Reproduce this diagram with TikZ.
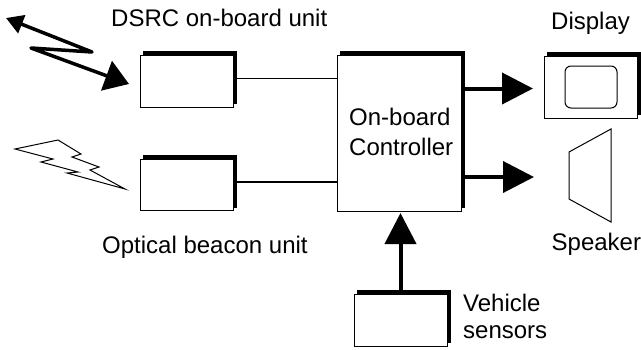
\documentclass[tikz,border=0pt]{standalone}
\usepackage{fontspec}
\setmainfont{Liberation Sans}
\usetikzlibrary{arrows.meta}
\newcommand{\LABELSIZE}{\fontsize{24}{28}\selectfont}

\tikzset{
    unitbox/.style={draw, fill=white, line width=1pt, inner sep=0pt, outer sep=0pt},
    shadowline/.style={line width=4.5pt, miter limit=10},
    thinlink/.style={line width=1.5pt},
    fatarrow/.style={line width=4pt, -{Triangle[length=31pt, width=31pt]}},
    zigzag/.style={line width=3.5pt, line join=round},
    label/.style={font=\LABELSIZE, inner sep=0pt, anchor=base west, align=left}
}

\begin{document}
\begin{tikzpicture}[x=1pt, y=-1pt]
    \useasboundingbox (0, 0) rectangle (641, 349);

    % boxes with their heavy top and right edges
    \foreach \name/\xleft/\ytop/\wide/\high in {
            dsrc/140/55.5/93/51.5,
            optical/140/159/93/51.5,
            controller/337/55/124/156,
            display/544/56/93/62,
            sensors/354/294/93/52
        } {
            \node[unitbox, minimum width=\wide pt, minimum height=\high pt] (\name)
                at ({\xleft + \wide / 2}, {\ytop + \high / 2}) {};
            \draw[shadowline] ([shift={(3pt, 2.2pt)}]\name.north west) -- ([shift={(2.2pt, 2.2pt)}]\name.north east)
                -- ([shift={(2.2pt, 3pt)}]\name.south east);
        }

    % screen and speaker
    \draw[line width=1pt, rounded corners=6pt] (565, 66) rectangle (617, 108);
    \draw[line width=1pt] (569, 152) -- (611, 129) -- (611, 222) -- (569, 199) -- cycle;

    % links
    \draw[thinlink] (dsrc.east) ++(0, -3) coordinate (dsrcout) -- (dsrcout -| controller.west);
    \draw[thinlink] (optical.east) ++(0, -3) coordinate (opticalout) -- (opticalout -| controller.west);

    \coordinate (displayin) at (533, 88.5);
    \coordinate (speakerin) at (534, 177);
    \coordinate (sensorsin) at (400.5, 213);
    \draw[fatarrow] (displayin -| controller.east) -- (displayin);
    \draw[fatarrow] (speakerin -| controller.east) -- (speakerin);
    \draw[fatarrow] (sensors.north) ++(0, -4) -- (sensorsin);

    % radio link
    \coordinate (farend) at (6, 18);
    \coordinate (nearend) at (129, 84);
    \draw[zigzag, {Triangle[length=17pt, width=19pt]}-{Triangle[length=24pt, width=31pt]}]
        (farend) -- (92, 52) -- (31, 48) -- (nearend);

    % optical beam
    \draw[line width=1pt, line join=miter] (15, 149) -- (58, 140) -- (81, 154) -- (72, 157) -- (99, 167) -- (90, 170)
        -- (125, 189) -- (67, 173) -- (78, 172) -- (41, 162) -- (53, 159) -- cycle;

    % labels
    \node[label] (dsrclabel) at (111, 26) {DSRC on-board unit};
    \node[label] (opticallabel) at (102, 253) {Optical beacon unit};
    \node[label] (displaylabel) at (551, 29) {Display};
    \node[label] (speakerlabel) at (551.5, 250) {Speaker};
    \node[label] (controllerlabel1) at (349, 125) {On-board};
    \node[label] (controllerlabel2) at (349, 155) {Controller};
    \node[label] (sensorslabel1) at (463, 311) {Vehicle};
    \node[label] (sensorslabel2) at (463, 338) {sensors};
\end{tikzpicture}
\end{document}
